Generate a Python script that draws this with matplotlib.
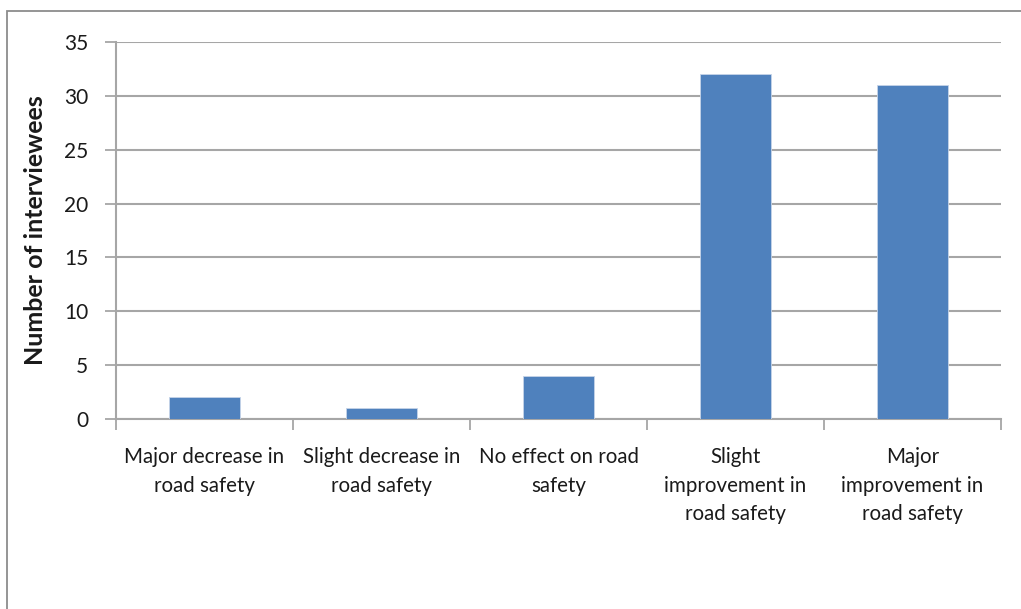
import matplotlib
matplotlib.use("Agg")
import matplotlib.pyplot as plt
from matplotlib.patches import Rectangle

categories = [
    "Major decrease in\nroad safety",
    "Slight decrease in\nroad safety",
    "No effect on road\nsafety",
    "Slight\nimprovement in\nroad safety",
    "Major\nimprovement in\nroad safety",
]
counts = [2, 1, 4, 32, 31]
yticks = [0, 5, 10, 15, 20, 25, 30, 35]

plt.rcParams['font.family'] = ['Lato', 'DejaVu Sans']
text_color = '#1a1a1a'
grid_color = '#a6a6a6'

fig = plt.figure(figsize=(10.21, 6.09), dpi=100)
ax = fig.add_axes([116 / 1021, 1 - 419 / 609, (1001 - 116) / 1021, (419 - 42) / 609])

# outer chart-area border (runs off the right and bottom of the picture)
fig.patches.append(Rectangle((7 / 1021, -0.1), 1.2, 1 - 11 / 609 + 0.1,
                             transform=fig.transFigure, fill=False,
                             edgecolor='#8c8c8c', linewidth=1.3))

x = list(range(len(categories)))
ax.bar(x, counts, width=0.4, color='#4f81bd', edgecolor='#c6d4e8', linewidth=0.6, zorder=3)

ax.set_xlim(-0.5, len(categories) - 0.5)
ax.set_ylim(0, 35)
ax.set_yticks(yticks)
ax.set_yticklabels([str(t) for t in yticks])
ax.set_xticks([i - 0.5 for i in range(len(categories) + 1)], minor=False)
ax.set_xticklabels([])
ax.set_xticks(x, minor=True)
ax.set_xticklabels(categories, minor=True, fontsize=14.8, color=text_color,
                   linespacing=1.55, va='top')

ax.tick_params(axis='x', which='major', length=8, width=1.3, color=grid_color, direction='out')
ax.tick_params(axis='x', which='minor', length=0, pad=20)
ax.tick_params(axis='y', length=8, width=1.3, color=grid_color, direction='out',
               labelsize=15, labelcolor=text_color, pad=12)

ax.yaxis.grid(True, color=grid_color, linewidth=1.5, zorder=0)
ax.set_axisbelow(True)
for side in ['top', 'right']:
    ax.spines[side].set_visible(False)
for side in ['left', 'bottom']:
    ax.spines[side].set_color(grid_color)
    ax.spines[side].set_linewidth(1.5)

ax.set_ylabel("Number of interviewees", fontsize=18, fontweight='bold',
              color=text_color, labelpad=12)

fig.savefig("out.png", dpi=100, facecolor='white')
